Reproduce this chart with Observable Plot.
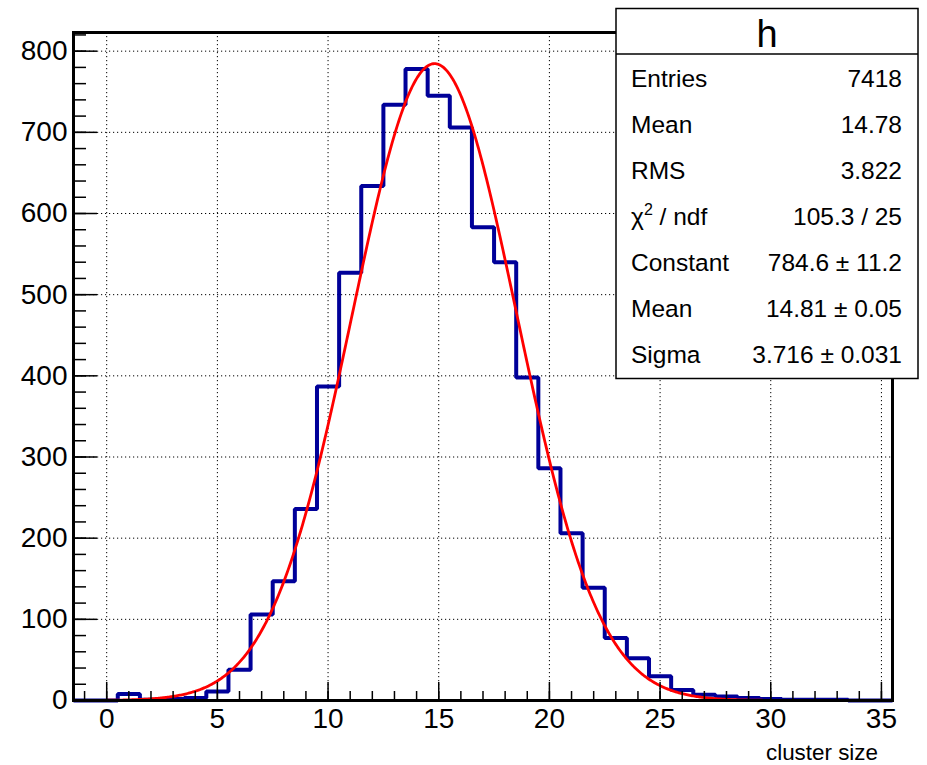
<!DOCTYPE html>
<html><head><meta charset="utf-8">
<script src="https://cdn.jsdelivr.net/npm/d3@7"></script>
<script src="https://cdn.jsdelivr.net/npm/@observablehq/plot@0.6"></script>
<style>body{margin:0;background:#fff} svg{display:block}</style>
</head><body><div id="chart"></div>
<script>
// Histogram bins (centers) and counts
const binCenters = [-1,0,1,2,3,4,5,6,7,8,9,10,11,12,13,14,15,16,17,18,19,20,21,22,23,24,25,26,27,28,29,30,31,32,33,34,35];
const counts     = [0,0,8,1,2,3,11,38,106,147,236,387,527,634,734,778,745,706,583,540,398,286,206,139,77,52,30,13,7,5,3,2,1,1,1,0,0];
// Gaussian fit parameters (from stats box)
const fitConstant = 784.6;
const fitMean = 14.81;
const fitSigma = 3.716;
// Axis ticks
const xMajorTicks = [0,5,10,15,20,25,30,35];
const xMinorTicks = d3.range(-1, 36, 1);
const yMajorTicks = [0,100,200,300,400,500,600,700,800];
const yMinorTicks = d3.range(0, 821, 20);
// Stats box
const statTitle = "h";
const statLabels = ["Entries","Mean","RMS","χ2 / ndf","Constant","Mean","Sigma"];
const statValues = ["7418","14.78","3.822","105.3 / 25","784.6 \u00B1 11.2","14.81 \u00B1 0.05","3.716 \u00B1 0.031"];
const xLabel = "cluster size";

const FONT = "'Liberation Sans', Arial, Helvetica, sans-serif";
const binWidth = 1;
const steps = [];
binCenters.forEach((c, i) => {
  steps.push({x: c - binWidth/2, y: counts[i]});
  steps.push({x: c + binWidth/2, y: counts[i]});
});
const xDomain = [binCenters[0] - binWidth/2, binCenters[binCenters.length-1] + binWidth/2];
const fit = d3.range(xDomain[0], xDomain[1] + 1e-9, 0.05).map(x => ({
  x, y: fitConstant * Math.exp(-0.5 * ((x - fitMean) / fitSigma) ** 2)
}));

const plot = Plot.plot({
  width: 927,
  height: 765,
  marginLeft: 73,
  marginRight: 35,
  marginTop: 32,
  marginBottom: 65,
  style: {fontFamily: FONT, background: "#fff", color: "#000"},
  x: {domain: xDomain},
  y: {domain: [0, 823]},
  marks: [
    Plot.gridX(xMajorTicks, {stroke: "#000", strokeOpacity: 1, strokeDasharray: "1.2,2.8", strokeWidth: 1}),
    Plot.gridY(yMajorTicks, {stroke: "#000", strokeOpacity: 1, strokeDasharray: "1.2,2.8", strokeWidth: 1}),
    Plot.line(steps, {x: "x", y: "y", stroke: "#000099", strokeWidth: 4, strokeLinejoin: "miter", strokeLinecap: "butt"}),
    Plot.line(fit, {x: "x", y: "y", stroke: "#ff0000", strokeWidth: 2.8}),
    // ticks (inward)
    Plot.axisY(yMajorTicks, {tickSize: -24, tickFormat: () => "", label: null, strokeWidth: 1.5}),
    Plot.axisY(yMinorTicks, {tickSize: -13, tickFormat: () => "", label: null, strokeWidth: 1.5}),
    Plot.axisX(xMajorTicks, {tickSize: -18, tickFormat: () => "", label: null, strokeWidth: 1.5}),
    Plot.axisX(xMinorTicks, {tickSize: -9, tickFormat: () => "", label: null, strokeWidth: 1.5}),
    // tick labels
    Plot.axisY(yMajorTicks, {tickSize: 0, tickPadding: 6, fontSize: 28, label: null}),
    Plot.axisX(xMajorTicks, {tickSize: 0, tickPadding: 8, fontSize: 28, label: null}),
    Plot.frame({stroke: "#000", strokeWidth: 3})
  ]
});
document.getElementById("chart").appendChild(plot);

const svg = d3.select(plot);
// x-axis title
svg.append("text").attr("x", 878).attr("y", 760).attr("text-anchor", "end")
  .attr("font-family", FONT).attr("font-size", 22.4).attr("fill", "#000").text(xLabel);

// Stats box
const box = svg.append("g").attr("font-family", FONT).attr("fill", "#000");
box.append("rect").attr("x", 616).attr("y", 8.5).attr("width", 302).attr("height", 370)
  .attr("fill", "#fff").attr("stroke", "#000").attr("stroke-width", 1.5);
box.append("line").attr("x1", 616).attr("x2", 918).attr("y1", 54).attr("y2", 54)
  .attr("stroke", "#000").attr("stroke-width", 1.5);
box.append("text").attr("x", 767).attr("y", 47).attr("text-anchor", "middle")
  .attr("font-size", 38).text(statTitle);
statLabels.forEach((lab, i) => {
  const yb = 87 + i * 46;
  const t = box.append("text").attr("x", 631).attr("y", yb).attr("text-anchor", "start").attr("font-size", 24.5);
  if (lab.startsWith("χ2")) {
    t.append("tspan").text("χ");
    t.append("tspan").attr("font-size", 16).attr("dy", -10).text("2");
    t.append("tspan").attr("dy", 10).text(" / ndf");
  } else {
    t.text(lab);
  }
  box.append("text").attr("x", 902).attr("y", yb).attr("text-anchor", "end")
    .attr("font-size", 24.5).text(statValues[i]);
});
</script>
</body></html>
